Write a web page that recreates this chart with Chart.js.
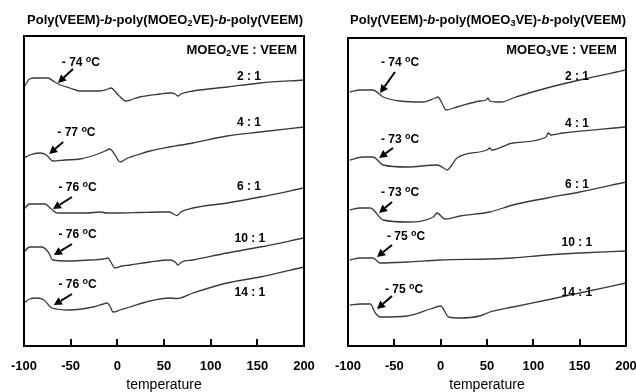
<!DOCTYPE html>
<html>
<head>
<meta charset="utf-8">
<script src="https://cdn.jsdelivr.net/npm/chart.js@4.4.1/dist/chart.umd.min.js"></script>
<style>
  html, body { margin:0; padding:0; background:#fff; width:636px; height:392px; overflow:hidden; position:relative; }
  canvas { position:absolute; top:0; }
  .ttl { position:absolute; top:12px; font:bold 13px "Liberation Sans", Arial, sans-serif; color:#000; white-space:nowrap; transform:translateX(-50%); line-height:16px; }
  .ttl sub { font-size:0.7em; vertical-align:-0.25em; line-height:0; }
</style>
</head>
<body>
<canvas id="cL" width="360" height="392" style="left:-20px"></canvas>
<canvas id="cR" width="360" height="392" style="left:300px"></canvas>
<div class="ttl" style="left:165px">Poly(VEEM)-<i>b</i>-poly(MOEO<sub>2</sub>VE)-<i>b</i>-poly(VEEM)</div>
<div class="ttl" style="left:488px">Poly(VEEM)-<i>b</i>-poly(MOEO<sub>3</sub>VE)-<i>b</i>-poly(VEEM)</div>
<script>
// ---------- data (temperature in °C, heat flow in arbitrary offset units) ----------
const xTicksMin = -100, xTicksMax = 200, xTickStep = 50;

// Left panel: MOEO2VE : VEEM
const left21T  = [-100,-94,-88,-75,-67,-61,-51,-40,-19,-10,-7,1,9,17,24,46,56,62,65,68,81,118,153,200];
const left21V  = [259,267,268,268,264,261,258,255,255,257,258,251,245,247,249,252,253,252,250,252,255,259,263,266];
const left41T  = [-100,-94,-83,-76,-69,-56,-40,-24,-13,-8,-2.5,3,11,21,35,56,81,117.5,153,200];
const left41V  = [188,191,193,191,185,186,187,191,195,197,191,184,188,191,195,199,203,210,214,219];
const left61T  = [-100,-94,-77.5,-72,-64,-32.5,-18.6,-11,3,24,46,56,60,64,68,81,117.5,153,200];
const left61V  = [137,142,142,138,133,133,134,133,133,133.5,134,134,132,130.5,134,138,143,149,158];
const left101T = [-100,-94,-81,-74,-69,-51,-29,-15,-10,-7,-2.5,5,13.6,35,56,62,65,69,81,117.5,153,200];
const left101V = [94,99,99,94,86,85,86,87,88,84,78,80,81,84,86,84,81,84,86,93,99,108];
const left141T = [-100,-94,-86,-78.6,-70,-51,-26,-15,-11,-8,-4.6,3,13.6,35,56,64,81,117.5,153,200];
const left141V = [43,47,48,46,38,36,39,42,43,40,34,36,39,45,48,47.5,53,63,69,79];

// Right panel: MOEO3VE : VEEM
const right21T  = [-98,-87,-73,-62,-44,-19,-6,-3,1.4,5.8,17.6,42.4,49,51,53,59.7,66,78,114.7,150,200];
const right21V  = [254,256,256,249,245,244,248,249,243,236,239,245,246,248,245,244,244,248,258,266,276];
const right41T  = [-98,-84,-73,-62,-36,-4,1.4,7,12,17.6,50,53,55,78,113.7,116,119,132,200];
const right41V  = [186,189,189,181,179,181,179,176,181,188,196,198,196,203,209,213,211,213,219];
const right61T  = [-98,-87,-76,-62,-36,-8,-4,4.7,21,53,78,114.7,150,200];
const right61V  = [136,138,138,126,124,129,133,127,130,134,141,148,154,164];
const right101T = [-98,-87,-73,-65.5,-36,-0.7,53,78,114.7,150,200];
const right101V = [86,88,88,83,84,86,87,88,91,93,95];
const right141T = [-98,-87,-76,-70.5,-65,-36,-11,0,8.6,21,42,53,78,114.7,150,200];
const right141V = [41,42,42,33,29,30,37,40,29,28,30,34,39,46,53,63];

const ratioLabels = ['2 : 1','4 : 1','6 : 1','10 : 1','14 : 1'];
const leftTg  = ['- 74','- 77','- 76','- 76','- 76'];
const rightTg = ['- 74','- 73','- 73','- 75','- 75'];

// ---------- drawing helpers ----------
const FONT = '"Liberation Sans", Arial, sans-serif';
function drawRich(ctx, segs, x, y, align, size, supScale) {
  const small = Math.round(size * (supScale || 0.72));
  let total = 0;
  const w = segs.map(s => {
    ctx.font = 'bold ' + (s.sup || s.sub ? small : size) + 'px ' + FONT;
    const m = ctx.measureText(s.t).width; total += m; return m;
  });
  let cx = align === 'right' ? x - total : (align === 'center' ? x - total / 2 : x);
  ctx.textBaseline = 'middle'; ctx.textAlign = 'left'; ctx.fillStyle = '#000';
  segs.forEach((s, i) => {
    ctx.font = 'bold ' + (s.sup || s.sub ? small : size) + 'px ' + FONT;
    const dy = s.sup ? -size * 0.28 : (s.sub ? size * 0.3 : 0);
    ctx.fillText(s.t, cx, y + dy);
    cx += w[i];
  });
}
function drawArrow(ctx, x1, y1, x2, y2) {
  const ang = Math.atan2(y2 - y1, x2 - x1);
  const hl = 8, hw = 4.2;
  const bx = x2 - hl * Math.cos(ang), by = y2 - hl * Math.sin(ang);
  ctx.strokeStyle = '#000'; ctx.lineWidth = 2;
  ctx.beginPath(); ctx.moveTo(x1, y1); ctx.lineTo(bx, by); ctx.stroke();
  ctx.fillStyle = '#000';
  ctx.beginPath();
  ctx.moveTo(x2, y2);
  ctx.lineTo(bx + hw * Math.sin(ang), by - hw * Math.cos(ang));
  ctx.lineTo(bx - hw * Math.sin(ang), by + hw * Math.cos(ang));
  ctx.closePath(); ctx.fill();
}

const annotPlugin = {
  id: 'annot',
  afterDatasetsDraw(chart, args, o) {
    const { ctx, chartArea: a, scales: { x, y } } = chart;
    ctx.save();
    ctx.strokeStyle = '#000'; ctx.lineWidth = 2;
    ctx.strokeRect(a.left, a.top, a.right - a.left, a.bottom - a.top);
    x.ticks.forEach(t => {
      const px = Math.round(x.getPixelForValue(t.value));
      if (px <= a.left + 1 || px >= a.right - 1) return;
      ctx.beginPath(); ctx.moveTo(px, a.bottom); ctx.lineTo(px, a.bottom - 7); ctx.stroke();
    });
    drawRich(ctx, o.header.segs, x.getPixelForValue(o.header.x), y.getPixelForValue(o.header.y), 'right', 13);
    o.tg.forEach(g => {
      drawRich(ctx, [{ t: g.text + ' ' }, { t: 'o', sup: true }, { t: 'C' }],
        x.getPixelForValue(g.lx), y.getPixelForValue(g.ly), 'center', 12, 0.78);
      drawArrow(ctx, x.getPixelForValue(g.a[0]), y.getPixelForValue(g.a[1]),
        x.getPixelForValue(g.a[2]), y.getPixelForValue(g.a[3]));
    });
    o.ratios.forEach(r => {
      drawRich(ctx, [{ t: r.text }], x.getPixelForValue(r.x), y.getPixelForValue(r.y), 'center', 12);
    });
    ctx.restore();
  }
};

function makeChart(id, Ts, Vs, yMax, pad, annot) {
  const datasets = Ts.map((T, k) => ({
    data: T.map((t, i) => ({ x: t, y: Vs[k][i] })),
    borderColor: '#3a3a3a', borderWidth: 1.3, pointRadius: 0,
    cubicInterpolationMode: 'monotone', fill: false
  }));
  return new Chart(document.getElementById(id), {
    type: 'line',
    data: { datasets },
    plugins: [annotPlugin],
    options: {
      responsive: false, animation: false, devicePixelRatio: 1,
      layout: { padding: pad },
      plugins: { legend: { display: false }, tooltip: { enabled: false }, annot: annot },
      scales: {
        x: {
          type: 'linear', min: xTicksMin, max: xTicksMax,
          grid: { display: false, drawTicks: false }, border: { display: false },
          ticks: { stepSize: xTickStep, color: '#000', padding: 13, maxRotation: 0,
                   font: { family: FONT, size: 13, weight: 'bold' } },
          title: { display: true, text: 'temperature', color: '#000',
                   font: { family: FONT, size: 14 }, padding: { top: -10.4, bottom: -2 } }
        },
        y: { display: false, min: 0, max: yMax }
      }
    }
  });
}

makeChart('cL',
  [left21T, left41T, left61T, left101T, left141T],
  [left21V, left41V, left61V, left101V, left141V],
  310, { left: 44, top: 36, right: 36, bottom: 0 },
  {
    header: { segs: [{ t: 'MOEO' }, { t: '2', sub: true }, { t: 'VE : VEEM' }], x: 192.5, y: 296 },
    tg: [
      { text: leftTg[0], lx: -39, ly: 283, a: [-47.5, 277, -63.6, 263] },
      { text: leftTg[1], lx: -43.8, ly: 213, a: [-58, 204, -73, 192] },
      { text: leftTg[2], lx: -42.7, ly: 158, a: [-48.6, 149, -69, 137] },
      { text: leftTg[3], lx: -42.7, ly: 111, a: [-48.6, 102, -68, 91] },
      { text: leftTg[4], lx: -42.7, ly: 61, a: [-48.6, 52, -68, 41] }
    ],
    ratios: [
      { text: ratioLabels[0], x: 141, y: 269 },
      { text: ratioLabels[1], x: 141, y: 223 },
      { text: ratioLabels[2], x: 141, y: 159 },
      { text: ratioLabels[3], x: 142, y: 107 },
      { text: ratioLabels[4], x: 142, y: 53 }
    ]
  });

makeChart('cR',
  [right21T, right41T, right61T, right101T, right141T],
  [right21V, right41V, right61V, right101V, right141V],
  308, { left: 48, top: 38, right: 34, bottom: 0 },
  {
    header: { segs: [{ t: 'MOEO' }, { t: '3', sub: true }, { t: 'VE : VEEM' }], x: 190, y: 296 },
    tg: [
      { text: rightTg[0], lx: -43.9, ly: 283, a: [-49.3, 274, -65.5, 253] },
      { text: rightTg[1], lx: -43.9, ly: 206, a: [-51.4, 198, -66.5, 188] },
      { text: rightTg[2], lx: -43.9, ly: 153, a: [-52.5, 144, -66.5, 133] },
      { text: rightTg[3], lx: -37.4, ly: 109, a: [-52.5, 101, -68.7, 89] },
      { text: rightTg[4], lx: -39.6, ly: 56, a: [-52.5, 50, -68.7, 37] }
    ],
    ratios: [
      { text: ratioLabels[0], x: 147, y: 269 },
      { text: ratioLabels[1], x: 147, y: 222 },
      { text: ratioLabels[2], x: 147, y: 161 },
      { text: ratioLabels[3], x: 147, y: 103 },
      { text: ratioLabels[4], x: 147, y: 53 }
    ]
  });
</script>
</body>
</html>
